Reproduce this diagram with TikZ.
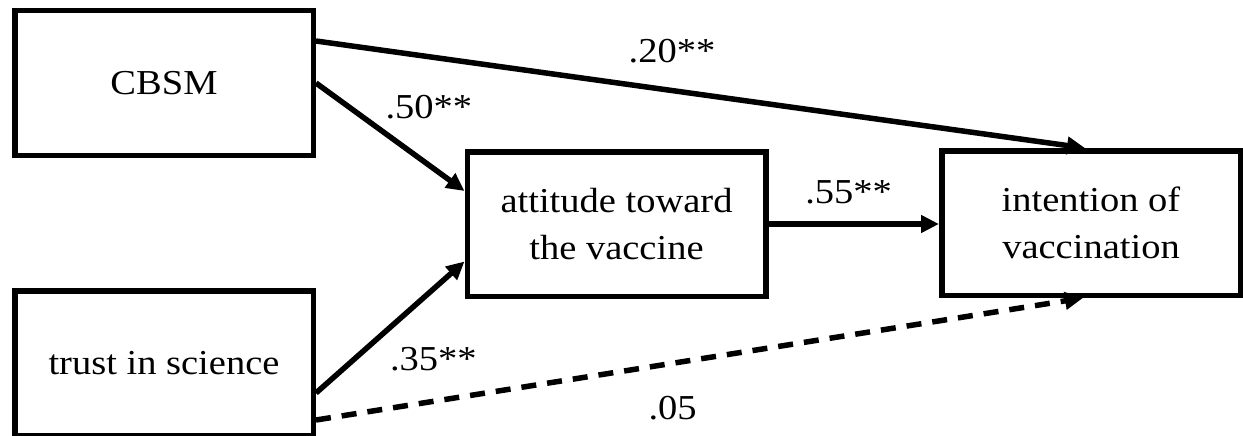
\documentclass[tikz,border=0pt]{standalone}
\usepackage{fontspec}
\setmainfont{Liberation Serif}[FakeStretch=1.1]
\usetikzlibrary{arrows.meta,positioning,calc}
\tikzset{
  >={Triangle[length=18pt, width=17pt]},
  font=\fontsize{35}{47}\selectfont,
  vbox/.style={draw, line width=5.5pt, align=center,
               minimum width=298.5pt, minimum height=144.5pt, inner sep=0pt},
  arr/.style={->, line width=5.5pt},
  dasharr/.style={arr, dash pattern=on 15pt off 11pt},
  lbl/.style={inner sep=0pt},
}

\begin{document}
\begin{tikzpicture}[x=1pt, y=1pt]
    \useasboundingbox (0,0) rectangle (1243,-436);
    \node[vbox] (cbsm)      at (164,-83)    {CBSM};
    \node[vbox] (trust)     at (164,-363)   {trust in science};
    \node[vbox] (attitude)  at (616.5,-224) {attitude toward\\the vaccine};
    \node[vbox] (intention) at (1091,-223)  {intention of\\vaccination};
    \draw[arr] ($(cbsm.north east)!0.22!(cbsm.south east)$) -- node[lbl, pos=0.463, above=24.5pt] {.20**} ($(intention.north)+(-6,0)$);
    \draw[arr] (cbsm.east) -- node[lbl, pos=0.45, anchor=south west, yshift=9.7pt] {.50**} ($(attitude.north west)!0.28!(attitude.south west)$);
    \draw[arr] ($(trust.east)+(0,-30)$) -- node[lbl, pos=0.48, anchor=north west, yshift=-15pt] {.35**} ($(attitude.north west)!0.75!(attitude.south west)$);
    \draw[arr] (attitude.east) -- node[lbl, pos=0.47, above=17pt] {.55**} (attitude.east -| intention.west);
    \draw[dasharr] ($(trust.east)+(0,-57)$) -- node[lbl, pos=0.465, below=30pt] {.05} ($(intention.south)+(-8,0)$);
\end{tikzpicture}
\end{document}
